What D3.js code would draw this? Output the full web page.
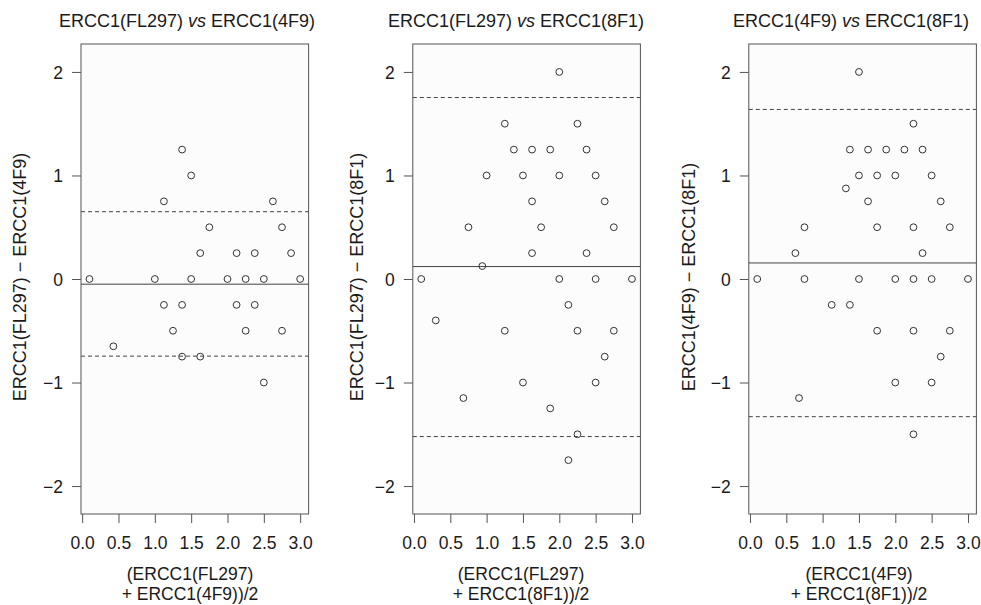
<!DOCTYPE html>
<html>
<head>
<meta charset="utf-8">
<script src="https://cdn.jsdelivr.net/npm/d3@7"></script>
<style>
  body { margin: 0; background: #fff; }
  text { font-family: "Liberation Sans", Arial, sans-serif; fill: #1a1a1a; }
</style>
</head>
<body>
<svg id="chart" width="981" height="605"></svg>
<script>
// panel 1: ERCC1(FL297) vs ERCC1(4F9)
const avg1 = [0.1, 1.0, 1.5, 2.0, 2.25, 2.5, 3.0, 1.375, 1.5, 1.125, 2.625, 1.75, 2.75, 1.625, 2.125, 2.375, 2.875,
              1.125, 1.375, 2.125, 2.375, 1.25, 2.25, 2.75, 0.43, 1.375, 1.625, 2.5];
const diff1 = [0, 0, 0, 0, 0, 0, 0, 1.25, 1.0, 0.75, 0.75, 0.5, 0.5, 0.25, 0.25, 0.25, 0.25,
               -0.25, -0.25, -0.25, -0.25, -0.5, -0.5, -0.5, -0.65, -0.75, -0.75, -1.0];
const lines1 = [-0.05, 0.65, -0.745];   // bias, upper, lower

// panel 2: ERCC1(FL297) vs ERCC1(8F1)
const avg2 = [2.0, 1.25, 2.25, 1.375, 1.625, 1.875, 2.375, 1.0, 1.5, 2.0, 2.5, 1.625, 2.625, 0.75, 1.75, 2.75, 1.625, 2.375, 0.94,
              0.1, 2.0, 2.5, 3.0,
              0.3, 2.125, 1.25, 2.25, 2.75, 2.625, 1.5, 2.5, 0.68, 1.875, 2.25, 2.125];
const diff2 = [2.0, 1.5, 1.5, 1.25, 1.25, 1.25, 1.25, 1.0, 1.0, 1.0, 1.0, 0.75, 0.75, 0.5, 0.5, 0.5, 0.25, 0.25, 0.125,
               0, 0, 0, 0,
               -0.4, -0.25, -0.5, -0.5, -0.5, -0.75, -1.0, -1.0, -1.15, -1.25, -1.5, -1.75];
const lines2 = [0.12, 1.753, -1.522];

// panel 3: ERCC1(4F9) vs ERCC1(8F1)
const avg3 = [1.5, 2.25, 1.375, 1.625, 1.875, 2.125, 2.375, 1.5, 1.75, 2.0, 2.5, 1.32, 1.625, 2.625, 0.75, 1.75, 2.25, 2.75, 0.625, 2.375,
              0.1, 0.75, 1.5, 2.0, 2.25, 2.5, 3.0,
              1.125, 1.375, 1.75, 2.25, 2.75, 2.625, 2.0, 2.5, 0.675, 2.25];
const diff3 = [2.0, 1.5, 1.25, 1.25, 1.25, 1.25, 1.25, 1.0, 1.0, 1.0, 1.0, 0.875, 0.75, 0.75, 0.5, 0.5, 0.5, 0.5, 0.25, 0.25,
               0, 0, 0, 0, 0, 0, 0,
               -0.25, -0.25, -0.5, -0.5, -0.5, -0.75, -1.0, -1.0, -1.15, -1.5];
const lines3 = [0.155, 1.638, -1.33];

const xTicks = [0, 0.5, 1, 1.5, 2, 2.5, 3];
const yTicks = [-2, -1, 0, 1, 2];

const panels = [
  {a: "ERCC1(FL297)", b: "ERCC1(4F9)", avg: avg1, diff: diff1, lines: lines1},
  {a: "ERCC1(FL297)", b: "ERCC1(8F1)", avg: avg2, diff: diff2, lines: lines2},
  {a: "ERCC1(4F9)",   b: "ERCC1(8F1)", avg: avg3, diff: diff3, lines: lines3}
];

// layout per panel
const lefts = [81, 412.8, 748.8];
const titleX = [187, 516, 851];
const xlabX = [190, 521, 859];
const ylabX = [20, 357, 689];
const plotW = 227.6, plotTop = 44, plotBottom = 514;

const svg = d3.select("#chart");

panels.forEach((p, i) => {
  const x = d3.scaleLinear().domain([-0.016, 3.116]).range([lefts[i], lefts[i] + plotW]);
  const y = d3.scaleLinear().domain([-2.27, 2.27]).range([plotBottom, plotTop]);
  const g = svg.append("g");

  g.append("rect")
    .attr("x", lefts[i]).attr("y", plotTop)
    .attr("width", plotW).attr("height", plotBottom - plotTop)
    .attr("fill", "#fcfcfc").attr("stroke", "#555").attr("stroke-width", 1);

  // mean difference and limits of agreement
  g.selectAll("line.ref")
    .data(p.lines)
    .enter().append("line")
    .attr("class", "ref")
    .attr("x1", lefts[i]).attr("x2", lefts[i] + plotW)
    .attr("y1", d => y(d)).attr("y2", d => y(d))
    .attr("stroke", "#444").attr("stroke-width", 1)
    .attr("stroke-dasharray", (d, k) => k === 0 ? null : "4,3");

  g.selectAll("circle")
    .data(p.avg)
    .enter().append("circle")
    .attr("cx", d => x(d))
    .attr("cy", (d, k) => y(p.diff[k]))
    .attr("r", 3.4)
    .attr("fill", "none").attr("stroke", "#333").attr("stroke-width", 1);

  const xAxis = g.append("g")
    .attr("transform", `translate(0,${plotBottom})`)
    .call(d3.axisBottom(x).tickValues(xTicks).tickFormat(d3.format(".1f")).tickSize(9).tickPadding(14));
  const yAxis = g.append("g")
    .attr("transform", `translate(${lefts[i]},0)`)
    .call(d3.axisLeft(y).tickValues(yTicks).tickFormat(d3.format("d")).tickSize(9).tickPadding(9));

  [xAxis, yAxis].forEach(ax => {
    ax.select(".domain").remove();
    ax.selectAll(".tick line").attr("stroke", "#555");
    ax.selectAll("text").style("font-size", "17.5px").attr("fill", "#1a1a1a");
  });
  yAxis.selectAll("text").attr("dy", "0.36em");

  // title with italic "vs"
  const t = g.append("text")
    .attr("x", titleX[i]).attr("y", 27)
    .attr("text-anchor", "middle")
    .style("font-size", "18px");
  t.append("tspan").text(p.a + " ");
  t.append("tspan").style("font-style", "italic").text("vs");
  t.append("tspan").text(" " + p.b);

  g.append("text")
    .attr("x", xlabX[i]).attr("y", 580)
    .attr("text-anchor", "middle").style("font-size", "17.5px")
    .text("(" + p.a);
  g.append("text")
    .attr("x", xlabX[i]).attr("y", 600)
    .attr("text-anchor", "middle").style("font-size", "17.5px")
    .text("+ " + p.b + ")/2");

  g.append("text")
    .attr("transform", `translate(${ylabX[i]},${(plotTop + plotBottom) / 2 - 2}) rotate(-90)`)
    .attr("text-anchor", "middle").attr("dy", "0.36em")
    .style("font-size", "18px")
    .text(p.a + " \u2212 " + p.b);
});
</script>
</body>
</html>
